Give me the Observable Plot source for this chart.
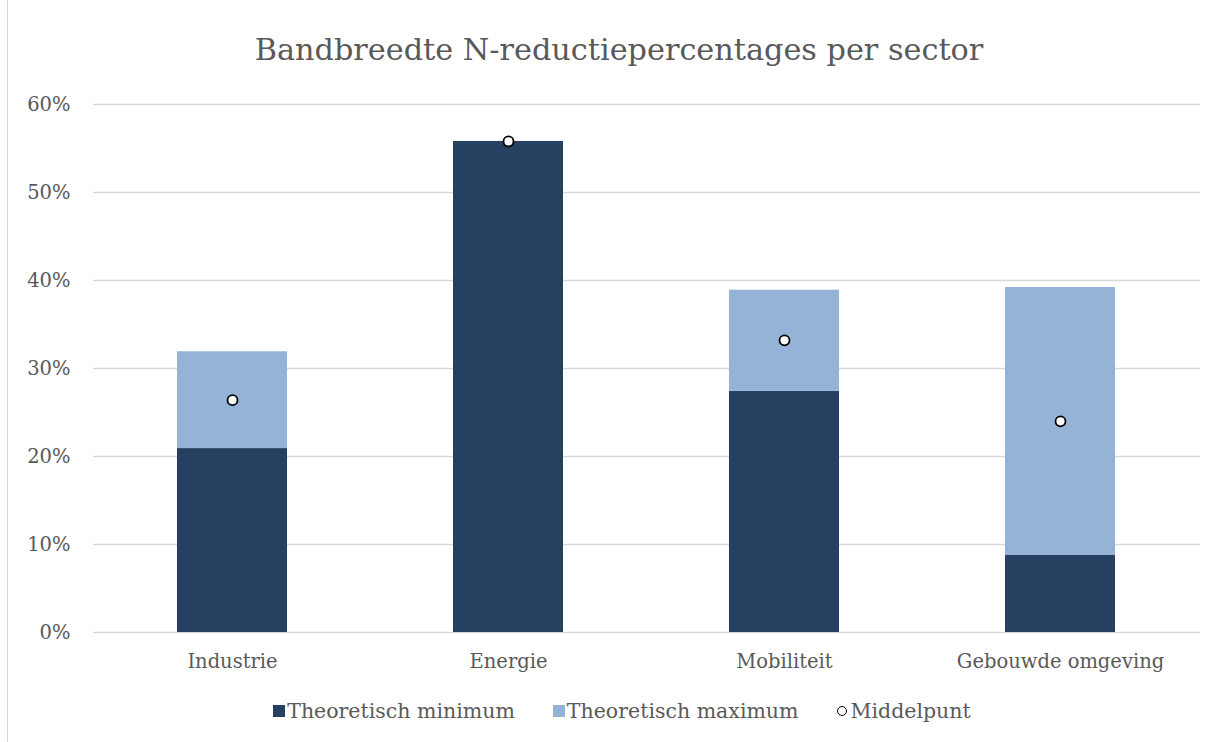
<!DOCTYPE html>
<html><head><meta charset="utf-8">
<script src="https://cdn.jsdelivr.net/npm/d3@7"></script>
<script src="https://cdn.jsdelivr.net/npm/@observablehq/plot@0.6"></script>
<style>
body{margin:0;background:#fff;font-family:"DejaVu Serif",serif;color:#595959;}
#frame{position:absolute;left:7px;top:0;width:1219px;height:742px;border-left:1.5px solid #d9d9d9;}
#title{position:absolute;left:0;top:34px;width:1238px;text-align:center;font-size:30.3px;line-height:32px;}
#chart{position:absolute;left:0;top:90px;}
#legend{position:absolute;left:0;top:699px;width:1244px;display:flex;justify-content:center;align-items:center;font-size:20.5px;line-height:24px;}
.item{display:flex;align-items:center;margin:0 19px;}
.sw{width:12px;height:12px;margin-right:2px;}
.ring{width:8px;height:8px;border:1.8px solid #000;border-radius:50%;background:#fff;margin-right:4px;}
</style></head>
<body>
<div id="frame"></div>
<div id="title">Bandbreedte N-reductiepercentages per sector</div>
<div id="chart"></div>
<div id="legend"></div>
<script>
const sectors = ["Industrie", "Energie", "Mobiliteit", "Gebouwde omgeving"];
const minimum = [20.9, 55.8, 27.4, 8.75];
const maximum = [31.9, 55.8, 38.9, 39.2];
const middelpunt = [26.4, 55.8, 33.2, 24.0];
const yTicks = [0, 10, 20, 30, 40, 50, 60];
const seriesNames = ["Theoretisch minimum", "Theoretisch maximum", "Middelpunt"];
const colors = ["#264061", "#95b3d7"];

const rows = sectors.map((s, i) => ({sector: s, min: minimum[i] / 100, max: maximum[i] / 100, mid: middelpunt[i] / 100}));

const plot = Plot.plot({
  width: 1226, height: 590,
  marginTop: 14, marginBottom: 48, marginLeft: 93, marginRight: 26,
  style: {fontFamily: '"DejaVu Serif", serif', fontSize: "19.5px", color: "#595959", background: "transparent"},
  x: {domain: sectors, paddingInner: 0.6, paddingOuter: 0.3, label: null, tickSize: 0, tickPadding: 22},
  y: {domain: [0, 0.6], ticks: yTicks.map(d => d / 100), tickFormat: d => Math.round(d * 100) + "%", label: null, tickSize: 0, tickPadding: 23},
  marks: [
    Plot.ruleY(yTicks.map(d => d / 100), {stroke: "#d9d9d9", strokeWidth: 1.5}),
    Plot.barY(rows, {x: "sector", y1: 0, y2: "min", fill: colors[0]}),
    Plot.barY(rows, {x: "sector", y1: "min", y2: "max", fill: colors[1]}),
    Plot.dot(rows, {x: "sector", y: "mid", r: 5, fill: "white", stroke: "black", strokeWidth: 1.8})
  ]
});
document.getElementById("chart").appendChild(plot);

const legend = document.getElementById("legend");
seriesNames.forEach((name, i) => {
  const item = document.createElement("div");
  item.className = "item";
  const mk = document.createElement("div");
  if (i < 2) { mk.className = "sw"; mk.style.background = colors[i]; }
  else { mk.className = "ring"; }
  item.appendChild(mk);
  const t = document.createElement("span");
  t.textContent = name;
  item.appendChild(t);
  legend.appendChild(item);
});
</script>
</body></html>
